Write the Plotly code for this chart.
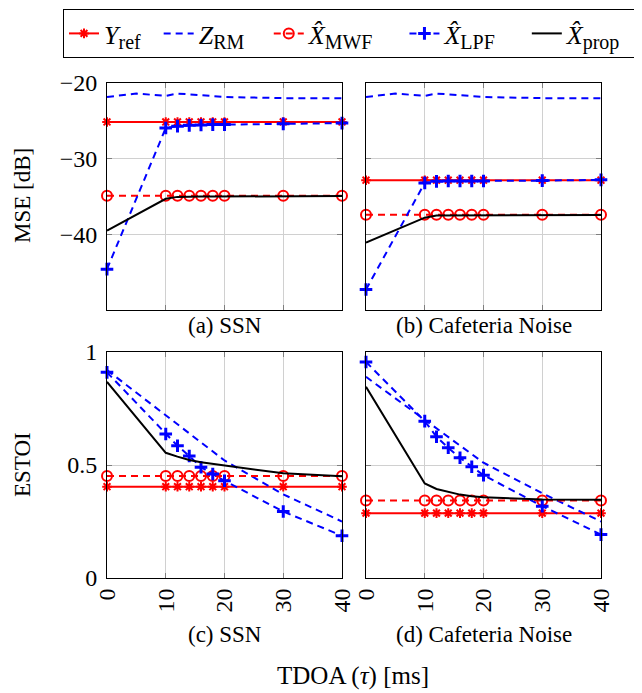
import plotly.graph_objects as go

# ---------------- data ----------------
tdoa = [0, 10, 12, 14, 16, 18, 20, 30, 40]
tdoa_rm = [0, 5, 10, 12, 14, 16, 18, 20, 30, 40]

# MSE [dB] - SSN
mse_ssn_yref = [-25.15] * 9
mse_ssn_zrm = [-21.85, -21.4, -21.7, -21.4, -21.5, -21.6, -21.7, -21.85, -22.0, -22.0]
mse_ssn_mwf = [-34.9] * 9
mse_ssn_lpf = [-44.6, -25.95, -25.7, -25.6, -25.55, -25.5, -25.5, -25.4, -25.3]
mse_ssn_prop = [-39.5, -35.3, -35.05, -35.0, -35.0, -35.0, -35.0, -35.0, -34.95]

# MSE [dB] - Cafeteria
mse_caf_yref = [-32.85] * 9
mse_caf_zrm = [-21.85, -21.4, -21.7, -21.4, -21.5, -21.6, -21.7, -21.85, -22.0, -22.0]
mse_caf_mwf = [-37.4] * 9
mse_caf_lpf = [-47.3, -33.2, -33.0, -32.95, -32.95, -32.95, -32.95, -32.9, -32.8]
mse_caf_prop = [-41.1, -37.8, -37.5, -37.5, -37.5, -37.5, -37.5, -37.5, -37.45]

# ESTOI - SSN
est_ssn_yref = [0.404] * 9
est_ssn_zrm = [0.92, 0.82, 0.72, 0.68, 0.64, 0.60, 0.56, 0.52, 0.37, 0.25]
est_ssn_mwf = [0.451] * 9
est_ssn_lpf = [0.91, 0.637, 0.585, 0.54, 0.49, 0.46, 0.43, 0.294, 0.187]
est_ssn_prop = [0.868, 0.554, 0.537, 0.522, 0.512, 0.505, 0.50, 0.463, 0.45]

# ESTOI - Cafeteria
est_caf_yref = [0.287] * 9
est_caf_zrm = [0.89, 0.795, 0.70, 0.66, 0.625, 0.585, 0.55, 0.51, 0.375, 0.25]
est_caf_mwf = [0.343] * 9
est_caf_lpf = [0.956, 0.694, 0.625, 0.576, 0.532, 0.492, 0.455, 0.318, 0.192]
est_caf_prop = [0.846, 0.418, 0.394, 0.38, 0.369, 0.362, 0.357, 0.347, 0.346]

SUB = "<sub><span style='font-size:20px'>%s</span></sub>"
NB = "\u00a0"
names = ["<i>Y</i>" + SUB % "ref" + NB * 2,
         "<i>Z</i>" + SUB % "RM" + NB * 3,
         "<i>X̂</i>" + SUB % "MWF" + NB * 4,
         "<i>X̂</i>" + SUB % "LPF" + NB * 4,
         "<i>X̂</i>" + SUB % "prop" + NB * 2]

mse_ticks = [-40, -30, -20]
mse_ticktext = ["\u221240", "\u221230", "\u221220"]
estoi_ticks = [0, 0.5, 1]
estoi_ticktext = ["0", "0.5", "1"]
x_ticks = [0, 10, 20, 30, 40]
x_ticktext = ["0", "10", "20", "30", "40"]

captions = ["(a) SSN", "(b) Cafeteria Noise", "(c) SSN", "(d) Cafeteria Noise"]

# ---------------- figure ----------------
# the page body has an 8px margin, so the figure is 8px smaller and
# all reference pixel positions are shifted by 8px
OFF = 8
W, H = 642 - OFF, 693 - OFF
FONT = "Liberation Serif, Times New Roman, serif"
fig = go.Figure()

panels = [
    ("x", "y", mse_ssn_yref, mse_ssn_zrm, mse_ssn_mwf, mse_ssn_lpf, mse_ssn_prop, True),
    ("x2", "y2", mse_caf_yref, mse_caf_zrm, mse_caf_mwf, mse_caf_lpf, mse_caf_prop, False),
    ("x3", "y3", est_ssn_yref, est_ssn_zrm, est_ssn_mwf, est_ssn_lpf, est_ssn_prop, False),
    ("x4", "y4", est_caf_yref, est_caf_zrm, est_caf_mwf, est_caf_lpf, est_caf_prop, False),
]

RED = "#ff0000"
BLUE = "#0000ff"
DASH = "7px,5px"

for xa, ya, yref, zrm, mwf, lpf, prop, show in panels:
    common = dict(xaxis=xa, yaxis=ya, showlegend=show, cliponaxis=False)
    fig.add_trace(go.Scatter(x=tdoa, y=yref, name=names[0], mode="lines+markers",
                             line=dict(color=RED, width=2),
                             marker=dict(symbol="asterisk-open", size=8, color=RED,
                                         line=dict(color=RED, width=2)), **common))
    fig.add_trace(go.Scatter(x=tdoa_rm, y=zrm, name=names[1], mode="lines",
                             line=dict(color=BLUE, width=2, dash=DASH), **common))
    fig.add_trace(go.Scatter(x=tdoa, y=mwf, name=names[2], mode="lines+markers",
                             line=dict(color=RED, width=2, dash=DASH),
                             marker=dict(symbol="circle-open", size=10, color=RED,
                                         line=dict(color=RED, width=2)), **common))
    fig.add_trace(go.Scatter(x=tdoa, y=lpf, name=names[3], mode="lines+markers",
                             line=dict(color=BLUE, width=2, dash=DASH),
                             marker=dict(symbol="cross-thin-open", size=9, color=BLUE,
                                         line=dict(color=BLUE, width=3)), **common))
    fig.add_trace(go.Scatter(x=tdoa, y=prop, name=names[4], mode="lines",
                             line=dict(color="black", width=2), **common))

# domains (reference pixel -> paper)
cols = [(107, 342), (366, 601)]
rows = [(83, 310), (352, 578)]

def px(x):
    return (x - OFF) / W

def py(y):
    return 1 - (y - OFF) / H

def xd(c):
    return [px(cols[c][0]), px(cols[c][1])]

def yd(r):
    return [py(rows[r][1]), py(rows[r][0])]

axis_common = dict(showline=True, linecolor="black", linewidth=1, mirror="ticks",
                   showgrid=True, gridcolor="#d0d0d0", gridwidth=1,
                   ticks="inside", ticklen=5, tickcolor="#7f7f7f", tickwidth=1,
                   zeroline=False, automargin=False,
                   tickfont=dict(family=FONT, size=24, color="black"))

layout_axes = {}
for i, (c, r) in enumerate([(0, 0), (1, 0), (0, 1), (1, 1)]):
    n = "" if i == 0 else str(i + 1)
    is_bottom = r == 1
    layout_axes["xaxis" + n] = dict(axis_common, domain=xd(c), range=[0, 40],
                                    anchor="y" + n, tickvals=x_ticks, ticktext=x_ticktext,
                                    showticklabels=is_bottom, tickangle=-90,
                                    ticklabelstandoff=0)
    layout_axes["yaxis" + n] = dict(axis_common, domain=yd(r),
                                    range=[-50, -20] if r == 0 else [0, 1],
                                    anchor="x" + n,
                                    tickvals=mse_ticks if r == 0 else estoi_ticks,
                                    ticktext=mse_ticktext if r == 0 else estoi_ticktext,
                                    showticklabels=(c == 0), ticklabelstandoff=4)

fig.update_layout(**layout_axes)

annotations = []
cap_pos = [(224.5, 325), (483.5, 325), (224.5, 634), (483.5, 634)]
for txt, (cx, cy) in zip(captions, cap_pos):
    annotations.append(dict(text=txt, x=px(cx), y=py(cy), xref="paper", yref="paper",
                            showarrow=False, xanchor="center", yanchor="middle",
                            font=dict(family=FONT, size=23, color="black")))
annotations.append(dict(text="MSE [dB]", x=px(22), y=py(196), xref="paper", yref="paper",
                        showarrow=False, textangle=-90, xanchor="center", yanchor="middle",
                        font=dict(family=FONT, size=23, color="black")))
annotations.append(dict(text="ESTOI", x=px(22), y=py(465), xref="paper", yref="paper",
                        showarrow=False, textangle=-90, xanchor="center", yanchor="middle",
                        font=dict(family=FONT, size=23, color="black")))
annotations.append(dict(text="TDOA (<i>τ</i>) [ms]", x=px(353), y=py(676), xref="paper",
                        yref="paper", showarrow=False, xanchor="center", yanchor="middle",
                        font=dict(family=FONT, size=25, color="black")))

fig.update_layout(
    width=W, height=H,
    margin=dict(l=0, r=0, t=0, b=0),
    paper_bgcolor="white", plot_bgcolor="white",
    font=dict(family=FONT, size=20, color="black"),
    annotations=annotations,
    legend=dict(orientation="h", x=px(63), y=py(9), xanchor="left", yanchor="top",
                bordercolor="black", borderwidth=1, bgcolor="white",
                font=dict(family=FONT, size=26, color="black"),
                itemwidth=30, tracegroupgap=0, traceorder="normal"),
)

fig.write_html("out.html")
